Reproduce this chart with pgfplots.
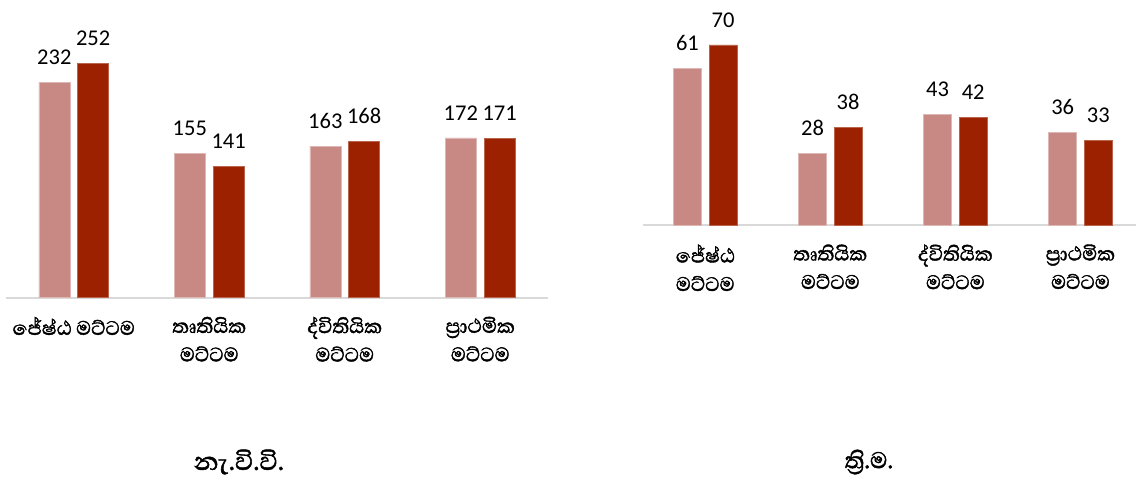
\documentclass[border=0pt]{standalone}
\usepackage{fontspec}
\setmainfont{Carlito}
\newfontfamily\sinhfont[Script=Sinhala, FakeBold=1.6]{Abhaya Libre}
\usepackage{pgfplots}
\pgfplotsset{compat=1.18}
\definecolor{lightc}{RGB}{200,137,132}
\definecolor{darkc}{RGB}{156,33,0}
\definecolor{axgray}{RGB}{217,217,217}
\begin{document}
\begin{tikzpicture}
\useasboundingbox (0,0) rectangle (1136pt,484pt);
\pgfplotsset{
  panel/.style={
    scale only axis, clip=false,
    axis x line*=bottom, axis y line=none,
    x axis line style={draw=axgray, line width=2pt, -},
    xmin=-0.5, ymin=0,
    xtick={0,1,2,3}, major tick length=0pt,
    ytick=\empty,
    /pgf/number format/assume math mode=true,
    xticklabel style={font=\sinhfont\fontsize{25}{28.5}\selectfont, align=center, anchor=north, inner sep=0pt, yshift=-19pt},
    nodes near coords,
    every node near coord/.append style={font=\fontsize{22.5}{27}\selectfont, inner sep=0pt, yshift=17.5pt, text=black},
  },
}
% left panel
\begin{axis}[panel,
  at={(6pt,186.3pt)}, anchor=south west,
  width=542pt, height=297.7pt,
  xmax=3.5, ymax=320.3,
  ybar=7.8pt, bar width=31pt,
  xticklabels={{ජේෂ්ඨ මට්ටම},{තෘතියික\\මට්ටම},{ද්විතියික\\මට්ටම},{ප්‍රාථමික\\මට්ටම}},
]
\addplot[fill=lightc, draw=lightc!60!white, line width=0.6pt]
  coordinates {(0,232) (1,155) (2,163) (3,172)};
\addplot[fill=darkc, draw=darkc!70!white, line width=0.6pt]
  coordinates {(0,252) (1,141) (2,168) (3,171)};
\end{axis}
% right panel
\begin{axis}[panel,
  at={(642.7pt,258.7pt)}, anchor=south west,
  width=493.3pt, height=225.3pt,
  xmax=3.444, ymax=87.46,
  ybar=7.6pt, bar width=28pt,
  xticklabels={{ජේෂ්ඨ\\මට්ටම},{තෘතියික\\මට්ටම},{ද්විතියික\\මට්ටම},{ප්‍රාථමික\\මට්ටම}},
]
\addplot[fill=lightc, draw=lightc!60!white, line width=0.6pt]
  coordinates {(0,61) (1,28) (2,43) (3,36)};
\addplot[fill=darkc, draw=darkc!70!white, line width=0.6pt]
  coordinates {(0,70) (1,38) (2,42) (3,33)};
\end{axis}
\node[font=\sinhfont\fontsize{32}{36}\selectfont] at (239pt,22pt) {නැ.වි.වි.};
\node[font=\sinhfont\fontsize{29}{34}\selectfont] at (869pt,22pt) {ත්‍රි.ම.};
\end{tikzpicture}
\end{document}
